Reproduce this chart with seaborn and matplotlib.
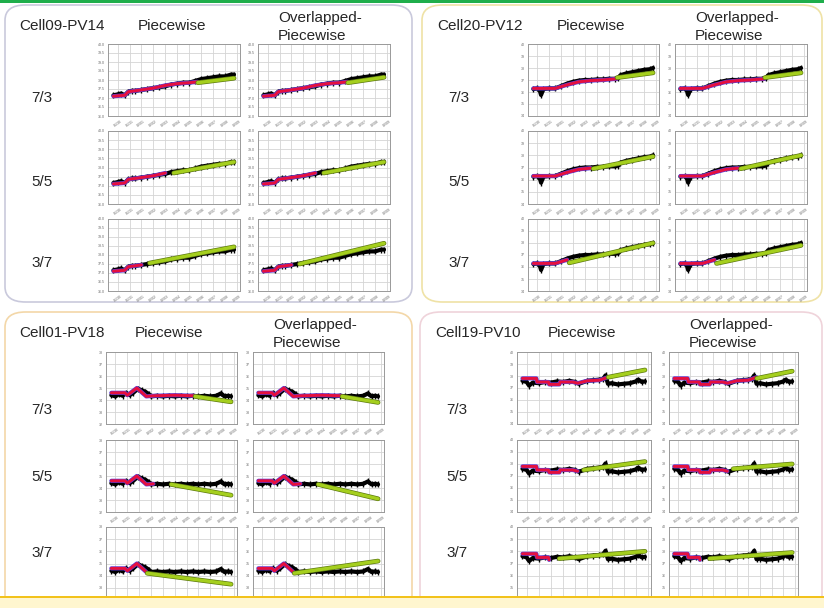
import numpy as np
import pandas as pd
import matplotlib
matplotlib.use("Agg")
import matplotlib.pyplot as plt
import seaborn as sns
from matplotlib.patches import FancyBboxPatch, Rectangle

sns.set_style("whitegrid")
plt.rcParams['font.family'] = ['Liberation Sans', 'DejaVu Sans']

# ---------------- data ----------------
CELLS = ["Cell09-PV14", "Cell20-PV12", "Cell01-PV18", "Cell19-PV10"]
SPLITS = ["7/3", "5/5", "3/7"]
SPLIT_FRAC = [0.7, 0.5, 0.3]
METHODS = ["Piecewise", "Overlapped-\nPiecewise"]
XTICK_LABELS = ["01/30", "01/31", "02/01", "02/02", "02/03", "02/04",
                "02/05", "02/06", "02/07", "02/08", "02/09"]
T_START, T_END = -0.35, 9.75

# measured series (black), days since 01/30
C09_T = [-0.35, 0.0, 0.3, 0.6, 0.9, 1.2, 1.5, 2.0, 2.5, 3.0, 3.5, 4.0, 4.5, 5.0, 5.5, 6.0, 6.5, 7.0, 7.5, 8.0, 8.5, 9.0, 9.5, 9.75]
C09_Y = [37.15, 37.2, 37.25, 37.15, 37.35, 37.4, 37.4, 37.45, 37.5, 37.55, 37.6, 37.65, 37.75, 37.8, 37.85, 37.85, 37.95, 38.05, 38.1, 38.15, 38.2, 38.2, 38.3, 38.3]
C20_T = [-0.35, 0.0, 0.2, 0.3, 0.5, 1.0, 1.5, 2.0, 2.5, 3.0, 3.5, 4.0, 4.5, 5.0, 5.5, 6.0, 6.5, 6.8, 7.0, 7.5, 8.0, 8.5, 9.0, 9.5, 9.75]
C20_Y = [36.25, 36.3, 36.1, 35.75, 36.25, 36.3, 36.3, 36.5, 36.7, 36.85, 36.95, 37.0, 37.0, 37.05, 37.05, 37.1, 37.1, 37.15, 37.4, 37.55, 37.65, 37.75, 37.85, 37.9, 38.0]
C01_T = [-0.35, 0.0, 0.3, 0.6, 0.9, 1.2, 1.5, 1.9, 2.2, 2.5, 2.8, 3.0, 3.5, 4.0, 4.5, 5.0, 5.5, 6.0, 6.5, 7.0, 7.5, 8.0, 8.5, 8.9, 9.2, 9.5, 9.75]
C01_Y = [34.4, 34.3, 34.5, 34.35, 34.6, 34.4, 34.6, 34.95, 34.8, 34.7, 34.5, 34.3, 34.35, 34.3, 34.35, 34.3, 34.35, 34.3, 34.35, 34.3, 34.35, 34.3, 34.35, 34.55, 34.3, 34.35, 34.3]
C19_T = [-0.35, 0.0, 0.2, 0.5, 1.0, 1.5, 2.0, 2.5, 3.0, 3.5, 4.0, 4.3, 5.0, 5.5, 6.0, 6.3, 6.5, 6.7, 7.0, 7.5, 8.0, 8.5, 9.0, 9.2, 9.5, 9.75]
C19_Y = [37.6, 37.5, 37.2, 37.45, 37.4, 37.5, 37.45, 37.55, 37.5, 37.6, 37.5, 37.35, 37.6, 37.65, 37.7, 37.75, 38.05, 37.35, 37.4, 37.3, 37.35, 37.4, 37.55, 37.7, 37.5, 37.55]

# fitted piecewise segments (red), training range
C09_RT = [-0.35, 0.6, 0.9, 2.0, 3.0, 4.0, 5.0, 6.0, 6.7]
C09_RY = [37.1, 37.15, 37.35, 37.45, 37.55, 37.7, 37.8, 37.85, 37.9]
C20_RT = [-0.35, 1.5, 2.5, 3.5, 4.5, 5.5, 6.7]
C20_RY = [36.3, 36.3, 36.6, 36.85, 36.95, 37.0, 37.1]
C01_RT = [-0.35, 0.8, 1.0, 1.8, 2.6, 3.2, 5.0, 6.7]
C01_RY = [34.6, 34.6, 34.4, 35.0, 34.3, 34.35, 34.4, 34.35]
C19_RT = [-0.35, 0.8, 0.85, 1.8, 1.85, 2.7, 2.75, 3.8, 4.2, 5.0, 6.0, 6.7]
C19_RY = [37.8, 37.8, 37.5, 37.5, 37.3, 37.3, 37.5, 37.5, 37.4, 37.6, 37.65, 37.9]

# forecast lines (green): [split][method] start / end values
C09_GS = [[37.85, 37.85], [37.7, 37.7], [37.55, 37.5]]
C09_GE = [[38.1, 38.15], [38.3, 38.3], [38.45, 38.65]]
C20_GS = [[37.2, 37.2], [36.9, 36.9], [36.35, 36.3]]
C20_GE = [[37.6, 37.6], [37.9, 38.0], [38.0, 37.8]]
C01_GS = [[34.3, 34.3], [34.3, 34.3], [34.2, 34.2]]
C01_GE = [[33.85, 33.8], [33.4, 33.1], [33.3, 35.2]]
C19_GS = [[37.9, 37.8], [37.5, 37.6], [37.4, 37.4]]
C19_GE = [[38.5, 38.4], [38.2, 38.0], [38.0, 37.9]]

YLIMS = [(36, 40), (34, 40), (32, 38), (34, 40)]
YSTEPS = [0.5, 1, 1, 1]

SERIES = [(C09_T, C09_Y), (C20_T, C20_Y), (C01_T, C01_Y), (C19_T, C19_Y)]
REDS = [(C09_RT, C09_RY), (C20_RT, C20_RY), (C01_RT, C01_RY), (C19_RT, C19_RY)]
GREENS = [(C09_GS, C09_GE), (C20_GS, C20_GE), (C01_GS, C01_GE), (C19_GS, C19_GE)]

# ---------------- layout (pixels) ----------------
W, H = 824, 608
fig = plt.figure(figsize=(W / 100, H / 100), dpi=100)
fig.patch.set_facecolor("white")

def fx(x):
    return x / W

def fy(y):
    return 1 - y / H

BOXES = [(5, 5, 412, 302), (422, 5, 822, 302), (5, 312, 412, 612), (420, 312, 822, 612)]
BOX_COLORS = ["#c9c9dc", "#efe2a6", "#f3d7a8", "#efd3da"]
COLS = [[(108, 240), (258, 390)], [(528, 659), (675, 807)],
        [(106, 237), (253, 384)], [(517, 651), (669, 798)]]
ROWS_TOP = [(44, 116), (131, 204), (219, 291)]
ROWS_BOT = [(352, 424), (440, 512), (527, 600)]
ROW_LABEL_Y_TOP = [98, 182, 263]
ROW_LABEL_Y_BOT = [410, 477, 553]
FS = 11

for ci in range(4):
    x0, y0, x1, y1 = BOXES[ci]
    box = FancyBboxPatch((fx(x0), fy(y1)), fx(x1 - x0), (y1 - y0) / H,
                         boxstyle="round,pad=0,rounding_size=0.025",
                         transform=fig.transFigure, facecolor="white",
                         edgecolor=BOX_COLORS[ci], linewidth=1.2, zorder=-5)
    fig.patches.append(box)
    top = y0
    tx = x0 + 14 if ci in (0, 2) else x0 + 15
    fig.text(fx(tx), fy(top + 21), CELLS[ci], fontsize=FS, va="center", ha="left")
    c1 = (COLS[ci][0][0] + COLS[ci][0][1]) / 2
    fig.text(fx(c1 - 2), fy(top + 21), METHODS[0], fontsize=FS, va="center", ha="center")
    fig.text(fx(COLS[ci][1][0] + 20), fy(top + 22), METHODS[1], fontsize=FS,
             va="center", ha="left", linespacing=1.45)
    rows = ROWS_TOP if ci < 2 else ROWS_BOT
    rly = ROW_LABEL_Y_TOP if ci < 2 else ROW_LABEL_Y_BOT
    for ri in range(3):
        fig.text(fx(x0 + 26), fy(rly[ri]), SPLITS[ri], fontsize=FS, va="center", ha="left")
        for mi in range(2):
            ax0, ax1 = COLS[ci][mi]
            ay0, ay1 = rows[ri]
            ax = fig.add_axes([fx(ax0), fy(ay1), fx(ax1 - ax0), (ay1 - ay0) / H])
            t, y = SERIES[ci]
            df = pd.DataFrame({"t": t, "y": y})
            sns.lineplot(data=df, x="t", y="y", ax=ax, color="black", lw=3.0,
                         sort=False, estimator=None, marker="|", markersize=4,
                         markeredgewidth=1.0, markeredgecolor="black")
            split = T_START + SPLIT_FRAC[ri] * (T_END - T_START)
            rt, ry = REDS[ci]
            rdf = pd.DataFrame({"t": rt, "y": ry})
            rdf = rdf[rdf.t <= split + 0.01]
            sns.lineplot(data=rdf, x="t", y="y", ax=ax, color="#5a3cdc", lw=3.0,
                         sort=False, estimator=None)
            sns.lineplot(data=rdf, x="t", y="y", ax=ax, color="#e5103e", lw=2.1,
                         sort=False, estimator=None)
            gs, ge = GREENS[ci]
            gdf = pd.DataFrame({"t": [split, T_END], "y": [gs[ri][mi], ge[ri][mi]]})
            sns.lineplot(data=gdf, x="t", y="y", ax=ax, color="#5d7a10", lw=3.4,
                         estimator=None)
            sns.lineplot(data=gdf, x="t", y="y", ax=ax, color="#a5cf1e", lw=2.4,
                         estimator=None)
            ylo, yhi = YLIMS[ci]
            ax.set_ylim(ylo, yhi)
            ax.set_xlim(-0.8, 10.25)
            ax.set_xticks(range(len(XTICK_LABELS)))
            if ci >= 2 and ri == 2:
                ax.set_xticklabels([])
            else:
                ax.set_xticklabels(XTICK_LABELS, rotation=35, fontsize=2.6, color="#444")
            yt = np.arange(ylo, yhi + 1e-9, YSTEPS[ci])
            ax.set_yticks(yt)
            if YSTEPS[ci] < 1:
                ax.set_yticklabels([f"{v:.1f}" for v in yt], fontsize=2.6, color="#444")
            else:
                ax.set_yticklabels([f"{v:.0f}" for v in yt], fontsize=2.6, color="#444")
            ax.tick_params(axis="both", length=1.2, width=0.4, pad=1, colors="#666")
            ax.set_xlabel("")
            ax.set_ylabel("")
            ax.grid(True, color="#d4d4d4", lw=0.6)
            for s in ax.spines.values():
                s.set_color("#999")
                s.set_linewidth(0.7)
            if ax.get_legend():
                ax.get_legend().remove()

# top green bar and bottom yellow bar
fig.patches.append(Rectangle((0, fy(3)), 1, 3 / H, transform=fig.transFigure,
                             facecolor="#1fae4b", edgecolor="none", zorder=20))
fig.patches.append(Rectangle((0, 0), 1, 10 / H, transform=fig.transFigure,
                             facecolor="#fff6cf", edgecolor="none", zorder=20))
fig.patches.append(Rectangle((0, 10 / H), 1, 2 / H, transform=fig.transFigure,
                             facecolor="#f2c21b", edgecolor="none", zorder=21))

fig.savefig("out.png", dpi=100)
